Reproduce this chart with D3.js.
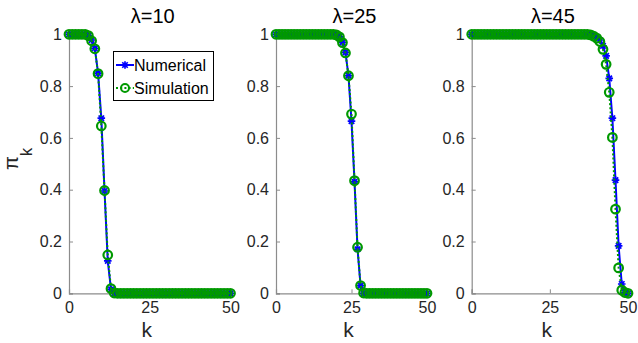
<!DOCTYPE html>
<html>
<head>
<meta charset="utf-8">
<script src="https://cdn.jsdelivr.net/npm/d3@7"></script>
<style>
  html, body { margin: 0; padding: 0; background: #fff; }
  svg { display: block; }
  text { font-family: "Liberation Sans", Arial, Helvetica, sans-serif; }
</style>
</head>
<body>
<svg id="chart" width="638" height="343"></svg>
<script>
// ---------------- data ----------------
const kValues = [0,1,2,3,4,5,6,7,8,9,10,11,12,13,14,15,16,17,18,19,20,21,22,23,24,25,26,27,28,29,30,31,32,33,34,35,36,37,38,39,40,41,42,43,44,45,46,47,48,49,50];
const panelTitles = ["λ=10", "λ=25", "λ=45"];
const xTickValues = [0, 25, 50];
const yTickValues = [0, 0.2, 0.4, 0.6, 0.8, 1];
const yTickLabels = ["0", "0.2", "0.4", "0.6", "0.8", "1"];
const seriesNames = ["Numerical", "Simulation"];

const numerical10 = [1,1,1,1,1,1,0.995,0.978,0.946,0.85,0.676,0.395,0.125,0.015,0,0,0,0,0,0,0,0,0,0,0,0,0,0,0,0,0,0,0,0,0,0,0,0,0,0,0,0,0,0,0,0,0,0,0,0,0];
const simulation10 = [1,1,1,1,1,1,0.995,0.975,0.944,0.848,0.646,0.397,0.148,0.018,0.001,0,0,0,0,0,0,0,0,0,0,0,0,0,0,0,0,0,0,0,0,0,0,0,0,0,0,0,0,0,0,0,0,0,0,0,0];
const numerical25 = [1,1,1,1,1,1,1,1,1,1,1,1,1,1,1,1,1,1,1,1,0.998,0.99,0.969,0.93,0.84,0.665,0.43,0.17,0.03,0,0,0,0,0,0,0,0,0,0,0,0,0,0,0,0,0,0,0,0,0,0];
const simulation25 = [1,1,1,1,1,1,1,1,1,1,1,1,1,1,1,1,1,1,1,1,0.998,0.99,0.968,0.928,0.84,0.692,0.435,0.178,0.03,0.001,0,0,0,0,0,0,0,0,0,0,0,0,0,0,0,0,0,0,0,0,0];
const numerical45 = [1,1,1,1,1,1,1,1,1,1,1,1,1,1,1,1,1,1,1,1,1,1,1,1,1,1,1,1,1,1,1,1,1,1,1,1,1,1,0.999,0.997,0.99,0.978,0.955,0.917,0.83,0.676,0.437,0.183,0.036,0.002,0];
const simulation45 = [1,1,1,1,1,1,1,1,1,1,1,1,1,1,1,1,1,1,1,1,1,1,1,1,1,1,1,1,1,1,1,1,1,1,1,1,1,1,0.998,0.993,0.985,0.972,0.942,0.884,0.776,0.602,0.325,0.098,0.012,0.003,0];

const numericalSeries = [numerical10, numerical25, numerical45];
const simulationSeries = [simulation10, simulation25, simulation45];

// ---------------- layout ----------------
const panelX = [[69, 230.5], [276, 427], [471.7, 628]];
const yRange = [293.3, 34.3];
const blue = "#0000ff";
const green = "#009900";
const axisColor = "#8c8c8c";
const textColor = "#262626";

const svg = d3.select("#chart");

function asteriskPath(s) {
  const d = s * 0.72;
  return `M${-s},0L${s},0M0,${-s}L0,${s}M${-d},${-d}L${d},${d}M${-d},${d}L${d},${-d}`;
}

panelTitles.forEach((title, i) => {
  const x = d3.scaleLinear().domain([0, 50]).range(panelX[i]);
  const y = d3.scaleLinear().domain([0, 1]).range(yRange);
  const g = svg.append("g");

  // axes
  const xAxis = d3.axisBottom(x).tickValues(xTickValues).tickSize(-4).tickPadding(8).tickFormat(d3.format("d"));
  const gx = g.append("g").attr("transform", `translate(0,${yRange[0]})`).call(xAxis);
  const yAxis = d3.axisLeft(y).tickValues(yTickValues).tickSize(-4).tickPadding(7)
      .tickFormat((d, j) => yTickLabels[j]);
  const gy = g.append("g").attr("transform", `translate(${panelX[i][0]},0)`).call(yAxis);
  [gx, gy].forEach(a => {
    a.select(".domain").attr("stroke", axisColor).attr("stroke-width", 1.2);
    a.selectAll(".tick line").attr("stroke", axisColor).attr("stroke-width", 1);
    a.selectAll(".tick text").attr("fill", textColor).style("font-size", "16px")
      .style("font-family", '"Liberation Sans", Arial, sans-serif');
  });
  gx.selectAll(".tick text").attr("dy", "0.75em");

  // title
  g.append("text")
    .attr("x", (panelX[i][0] + panelX[i][1]) / 2 + 3)
    .attr("y", 23)
    .attr("text-anchor", "middle")
    .attr("fill", "#000")
    .style("font-size", "20px")
    .text(title);

  // x label
  g.append("text")
    .attr("x", (panelX[i][0] + panelX[i][1]) / 2 - 3)
    .attr("y", 337)
    .attr("text-anchor", "middle")
    .attr("fill", textColor)
    .style("font-size", "21px")
    .text("k");

  const num = numericalSeries[i];
  const sim = simulationSeries[i];
  const line = d3.line().x((d, j) => x(kValues[j])).y(d => y(d));

  // numerical line
  g.append("path").datum(num)
    .attr("fill", "none").attr("stroke", blue).attr("stroke-width", 2)
    .attr("d", line);
  g.append("g").selectAll("path").data(num).join("path")
    .attr("transform", (d, j) => `translate(${x(kValues[j])},${y(d)})`)
    .attr("d", asteriskPath(3.8))
    .attr("stroke", blue).attr("stroke-width", 1.7).attr("fill", "none");

  // simulation line
  g.append("path").datum(sim)
    .attr("fill", "none").attr("stroke", green).attr("stroke-width", 2)
    .attr("stroke-dasharray", "2,2.2")
    .attr("d", line);
  g.append("g").selectAll("circle").data(sim).join("circle")
    .attr("cx", (d, j) => x(kValues[j]))
    .attr("cy", d => y(d))
    .attr("r", 4.3)
    .attr("fill", "none").attr("stroke", green).attr("stroke-width", 2.2);
});

// y label
const yl = svg.append("text")
  .attr("transform", "translate(18,170) rotate(-90)")
  .attr("fill", textColor)
  .style("font-size", "20px");
yl.append("tspan").text("π");
yl.append("tspan").attr("dy", 14).style("font-size", "17px").text("k");

// legend
const lg = svg.append("g");
lg.append("rect").attr("x", 113.5).attr("y", 51.5).attr("width", 100).attr("height", 49)
  .attr("fill", "#fff").attr("stroke", "#000").attr("stroke-width", 1);
const legendRows = [
  { name: seriesNames[0], y: 65, color: blue, dash: null, marker: "ast" },
  { name: seriesNames[1], y: 88, color: green, dash: "2,2.2", marker: "circle" }
];
legendRows.forEach(r => {
  lg.append("line").attr("x1", 116).attr("x2", 134).attr("y1", r.y).attr("y2", r.y)
    .attr("stroke", r.color).attr("stroke-width", 2)
    .attr("stroke-dasharray", r.dash);
  if (r.marker === "ast") {
    lg.append("path").attr("transform", `translate(125,${r.y})`).attr("d", asteriskPath(3.8))
      .attr("stroke", r.color).attr("stroke-width", 1.7).attr("fill", "none");
  } else {
    lg.append("circle").attr("cx", 125).attr("cy", r.y).attr("r", 4)
      .attr("fill", "none").attr("stroke", r.color).attr("stroke-width", 2);
  }
  lg.append("text").attr("x", 134).attr("y", r.y + 6).attr("fill", "#000")
    .style("font-size", "16px").text(r.name);
});
</script>
</body>
</html>
